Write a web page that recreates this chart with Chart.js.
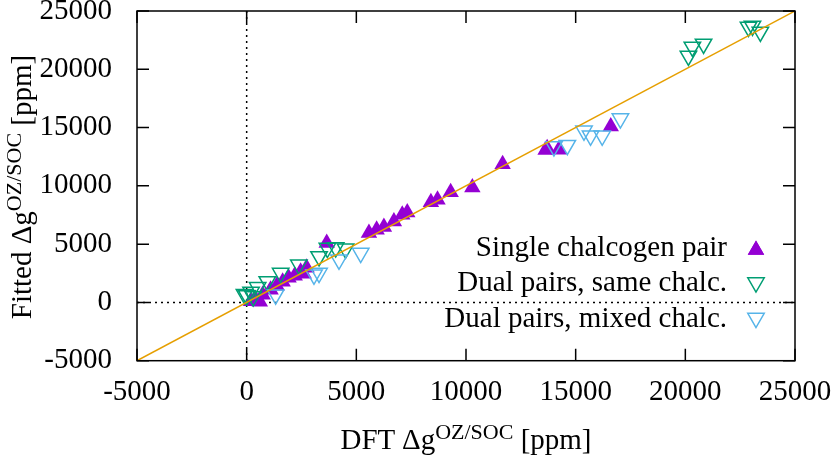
<!DOCTYPE html>
<html>
<head>
<meta charset="utf-8">
<script src="https://cdn.jsdelivr.net/npm/chart.js@4.4.1/dist/chart.umd.min.js"></script>
<style>
  body { margin: 0; background: #fff; }
  #wrap { position: relative; width: 831px; height: 460px; }
  .titulo { position: absolute; font-family: 'Liberation Serif', serif; font-size: 29px; color: #000; white-space: nowrap; }
  .titulo sup { font-size: 22px; vertical-align: 0.45em; line-height: 0; }
  #tituloX { left: 137px; width: 658px; top: 423px; text-align: center; }
  #tituloY { left: -129px; top: 167px; width: 300px; height: 40px; line-height: 40px; text-align: center; transform: rotate(-90deg); }
</style>
</head>
<body>
<div id="wrap">
  <canvas id="grafico" width="831" height="460"></canvas>
  <div class="titulo" id="tituloX">DFT Δg<sup>OZ/SOC</sup> [ppm]</div>
  <div class="titulo" id="tituloY">Fitted Δg<sup>OZ/SOC</sup> [ppm]</div>
</div>
<script>
// valores (DFT no eixo x, ajustado no eixo y)
const singleX = [200, 600, 400, 730, 1090, 1370, 1640, 1910, 2190, 2460, 2730, 2600, 3650,
  5575, 5925, 6257, 6713, 7094, 7322, 8400, 8700, 9300, 10290, 11670, 13630, 13700, 14230, 16600];
const singleY = [100, 50, 300, 660, 1090, 1430, 1770, 2120, 2290, 2630, 2970, 2450, 5100,
  5950, 6230, 6460, 6940, 7520, 7710, 8600, 8800, 9450, 9860, 11860, 13080, 13230, 13090, 15090];

const sameX = [-100, 0, 300, 200, 500, 940, 1550, 2380, 3300, 3680, 4060, 4510,
  20140, 20320, 20830, 22880, 23060, 23420];
const sameY = [700, 600, 500, 900, 1300, 1800, 2520, 3230, 3940, 4660, 4710, 4600,
  21140, 21920, 22170, 23630, 23720, 23200];

const mixedX = [1320, 3070, 3300, 4210, 5200, 14010, 14620, 15380, 15680, 16210, 17040];
const mixedY = [660, 2370, 2520, 3660, 4230, 13370, 13490, 14720, 14290, 14290, 15770];

const limites = [-5000, 25000];
const nomes = ['Single chalcogen pair', 'Dual pairs, same chalc.', 'Dual pairs, mixed chalc.'];
const cores = ['#9400d3', '#009e73', '#56b4e9'];
const corLinha = '#e69f00';

const fonte = { family: "'Liberation Serif', serif", size: 29 };

function pontos(xs, ys) {
    return xs.map((x, i) => ({ x: x, y: ys[i] }));
}

// estilos dos marcadores (reaproveitados na legenda)
const marcadores = [
    { pointStyle: 'triangle', radius: 9.5, rotation: 0, borderWidth: 0, cheio: true },
    { pointStyle: 'triangle', radius: 9.5, rotation: 180, borderWidth: 1.5, cheio: false },
    { pointStyle: 'triangle', radius: 9.5, rotation: 180, borderWidth: 1.5, cheio: false }
];

function dataset(i, xs, ys) {
    const m = marcadores[i];
    return {
        label: nomes[i],
        data: pontos(xs, ys),
        showLine: false,
        pointStyle: m.pointStyle,
        pointRadius: m.radius,
        pointRotation: m.rotation,
        pointBorderWidth: m.borderWidth,
        pointBorderColor: cores[i],
        pointBackgroundColor: m.cheio ? cores[i] : 'rgba(0,0,0,0)',
        order: 3 - i + 1
    };
}

// moldura, ticks para dentro, linhas do zero e legenda
const moldura = {
    id: 'moldura',
    beforeDatasetsDraw(chart) {
        const { ctx, chartArea: a, scales } = chart;
        const x0 = scales.x.getPixelForValue(0);
        const y0 = scales.y.getPixelForValue(0);
        ctx.save();
        ctx.strokeStyle = '#000';
        ctx.lineWidth = 1.5;
        ctx.setLineDash([2, 4]);
        ctx.beginPath();
        ctx.moveTo(x0, a.top); ctx.lineTo(x0, a.bottom);
        ctx.moveTo(a.left, y0); ctx.lineTo(a.right, y0);
        ctx.stroke();
        ctx.restore();
    },
    afterDraw(chart) {
        const { ctx, chartArea: a, scales } = chart;
        ctx.save();
        ctx.strokeStyle = '#000';
        ctx.lineWidth = 1.5;
        ctx.beginPath();
        scales.x.ticks.forEach(t => {
            const px = scales.x.getPixelForValue(t.value);
            ctx.moveTo(px, a.bottom); ctx.lineTo(px, a.bottom - 12);
            ctx.moveTo(px, a.top); ctx.lineTo(px, a.top + 12);
        });
        scales.y.ticks.forEach(t => {
            const py = scales.y.getPixelForValue(t.value);
            ctx.moveTo(a.left, py); ctx.lineTo(a.left + 12, py);
            ctx.moveTo(a.right, py); ctx.lineTo(a.right - 12, py);
        });
        ctx.stroke();
        ctx.strokeRect(a.left, a.top, a.right - a.left, a.bottom - a.top);

        // legenda
        ctx.font = '29px "Liberation Serif"';
        ctx.fillStyle = '#000';
        ctx.textAlign = 'right';
        ctx.textBaseline = 'middle';
        nomes.forEach((n, i) => {
            const y = 248 + i * 35.5;
            ctx.fillText(n, 727, y);
            const m = marcadores[i];
            ctx.fillStyle = m.cheio ? cores[i] : 'rgba(0,0,0,0)';
            ctx.strokeStyle = cores[i];
            ctx.lineWidth = 1.5;
            Chart.helpers.drawPoint(ctx, {
                pointStyle: m.pointStyle, radius: m.radius, rotation: m.rotation, borderWidth: m.borderWidth
            }, 756, y + (m.rotation ? -1 : 2));
            if (m.cheio) ctx.fill();
            ctx.fillStyle = '#000';
        });
        ctx.restore();
    }
};

function semPadding(scale) {
    scale.paddingLeft = 0; scale.paddingRight = 0;
    scale.paddingTop = 0; scale.paddingBottom = 0;
}

new Chart(document.getElementById('grafico').getContext('2d'), {
    type: 'scatter',
    data: {
        datasets: [
            {
                label: 'y = x',
                data: pontos(limites, limites),
                showLine: true,
                borderColor: corLinha,
                borderWidth: 1.5,
                pointRadius: 0,
                order: 0
            },
            dataset(0, singleX, singleY),
            dataset(1, sameX, sameY),
            dataset(2, mixedX, mixedY)
        ]
    },
    options: {
        responsive: false,
        animation: false,
        layout: { padding: { top: 10.7, right: 36, left: 0, bottom: 0 } },
        plugins: { legend: { display: false }, tooltip: { enabled: false } },
        scales: {
            x: {
                type: 'linear', min: limites[0], max: limites[1],
                grid: { display: false }, border: { display: false },
                ticks: { stepSize: 5000, font: fonte, color: '#000', padding: 6, maxRotation: 0,
                    callback: v => String(v) },
                afterFit(scale) { scale.height = 99.3; semPadding(scale); }
            },
            y: {
                type: 'linear', min: limites[0], max: limites[1],
                grid: { display: false }, border: { display: false },
                ticks: { stepSize: 5000, font: fonte, color: '#000', padding: 17,
                    callback: v => String(v) },
                afterFit(scale) { scale.width = 137; semPadding(scale); }
            }
        }
    },
    plugins: [moldura]
});
</script>
</body>
</html>
